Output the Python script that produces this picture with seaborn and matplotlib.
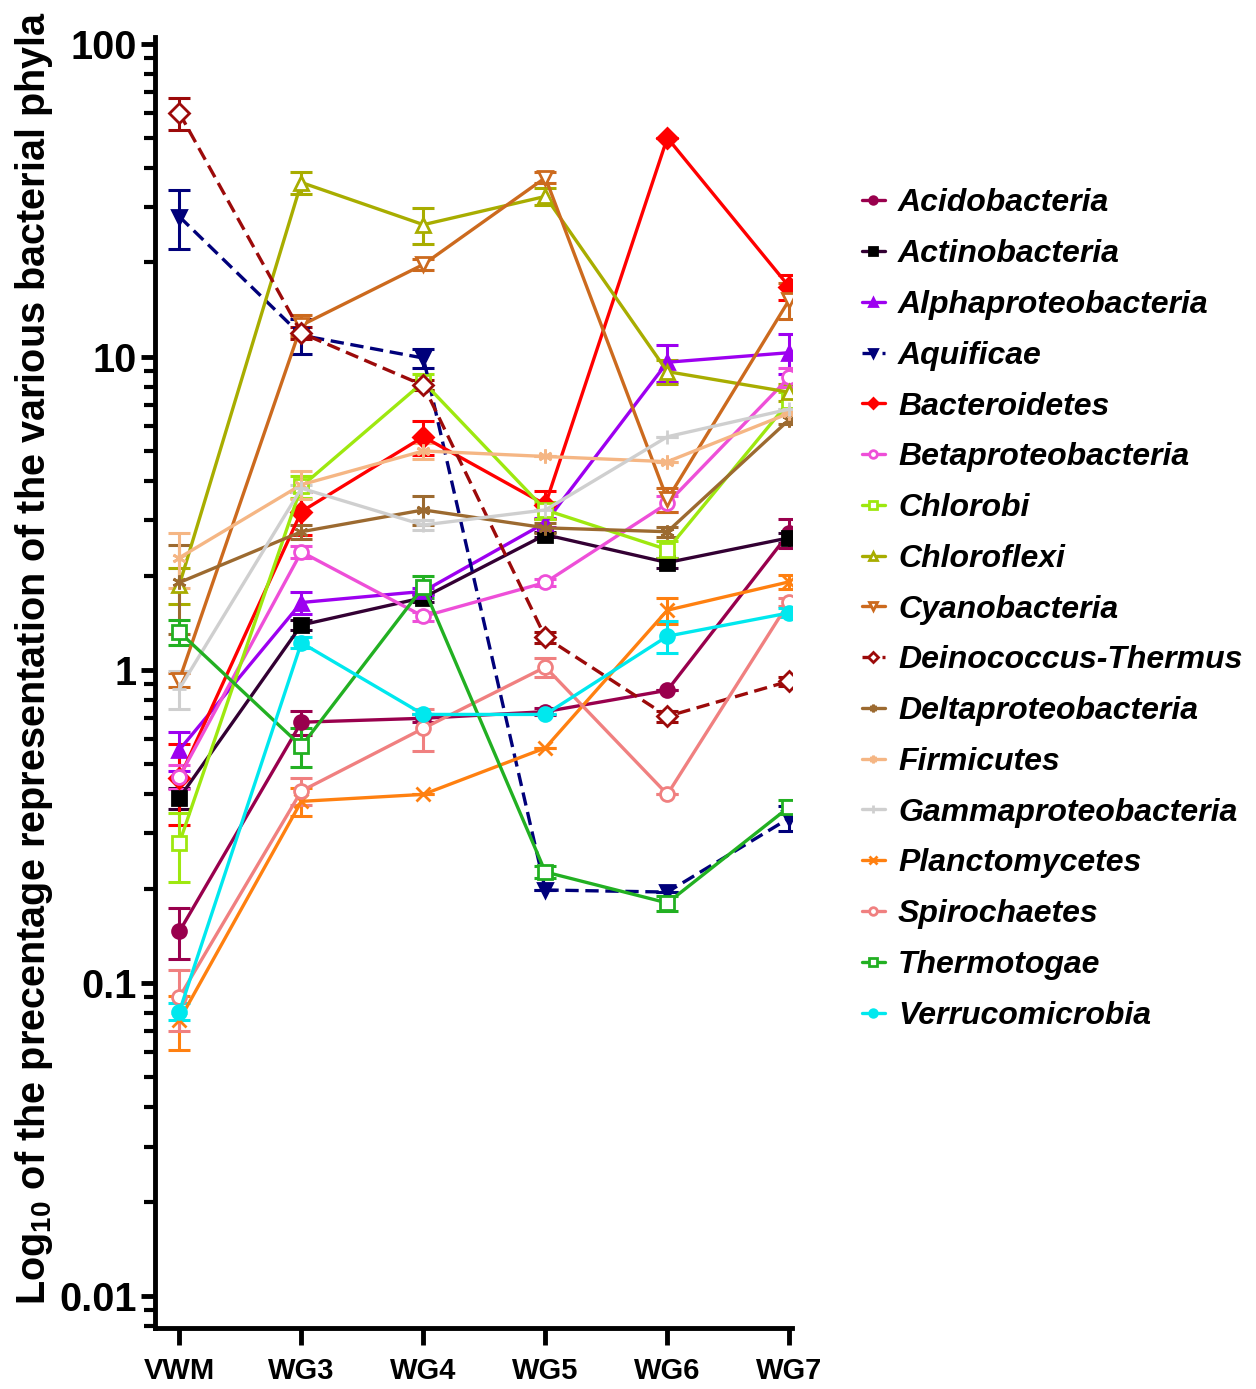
import numpy as np
import matplotlib
matplotlib.use("Agg")
from matplotlib import pyplot as plt
import seaborn as sns

sites = ["VWM", "WG3", "WG4", "WG5", "WG6", "WG7"]

phyla = ["Acidobacteria", "Actinobacteria", "Alphaproteobacteria", "Aquificae",
         "Bacteroidetes", "Betaproteobacteria", "Chlorobi", "Chloroflexi",
         "Cyanobacteria", "Deinococcus-Thermus", "Deltaproteobacteria",
         "Firmicutes", "Gammaproteobacteria", "Planctomycetes", "Spirochaetes",
         "Thermotogae", "Verrucomicrobia"]

# mean percentage per site
acido = [0.146, 0.68, 0.70, 0.735, 0.86, 2.74]
actino = [0.39, 1.39, 1.70, 2.70, 2.20, 2.64]
alpha = [0.555, 1.64, 1.78, 2.95, 9.6, 10.3]
aquif = [28.0, 11.7, 9.9, 0.198, 0.195, 0.336]
bactero = [0.45, 3.2, 5.55, 3.37, 50.0, 16.7]
beta = [0.455, 2.38, 1.48, 1.90, 3.40, 8.6]
chlorobi = [0.28, 3.85, 8.3, 3.24, 2.42, 7.2]
chloroflexi = [1.87, 36.0, 26.4, 32.5, 8.96, 7.7]
cyano = [0.93, 12.6, 19.7, 37.3, 3.5, 15.2]
deino = [60.0, 11.9, 8.1, 1.27, 0.71, 0.92]
delta = [1.9, 2.76, 3.24, 2.84, 2.76, 6.3]
firmi = [2.28, 3.9, 5.0, 4.8, 4.62, 6.6]
gamma = [0.87, 3.8, 2.9, 3.24, 5.55, 6.8]
plancto = [0.076, 0.38, 0.40, 0.563, 1.55, 1.91]
spiro = [0.090, 0.41, 0.65, 1.02, 0.40, 1.65]
thermo = [1.32, 0.57, 1.84, 0.226, 0.18, 0.365]
verruco = [0.081, 1.22, 0.72, 0.72, 1.28, 1.52]

# error bars (same units)
acido_err = [0.027, 0.06, 0.02, 0.02, 0.0, 0.3]
actino_err = [0.03, 0.05, 0.05, 0.05, 0.08, 0.1]
alpha_err = [0.08, 0.13, 0.05, 0.1, 1.3, 1.5]
aquif_err = [6.0, 1.5, 0.7, 0.0, 0.0, 0.03]
bactero_err = [0.13, 0.5, 0.7, 0.35, 0.0, 1.5]
beta_err = [0.04, 0.1, 0.05, 0.05, 0.2, 0.6]
chlorobi_err = [0.07, 0.3, 0.5, 0.2, 0.15, 0.5]
chloroflexi_err = [0.25, 3.0, 3.5, 2.0, 0.8, 0.5]
cyano_err = [0.05, 1.0, 0.8, 1.5, 0.3, 2.0]
deino_err = [7.0, 0.5, 0.3, 0.05, 0.03, 0.03]
delta_err = [0.6, 0.15, 0.35, 0.1, 0.1, 0.2]
firmi_err = [0.45, 0.4, 0.3, 0.0, 0.0, 0.0]
gamma_err = [0.12, 0.1, 0.1, 0.0, 0.0, 0.0]
plancto_err = [0.015, 0.04, 0.0, 0.0, 0.15, 0.1]
spiro_err = [0.02, 0.04, 0.1, 0.07, 0.0, 0.05]
thermo_err = [0.12, 0.08, 0.15, 0.01, 0.01, 0.02]
verruco_err = [0.005, 0.05, 0.0, 0.0, 0.15, 0.05]

values = [acido, actino, alpha, aquif, bactero, beta, chlorobi, chloroflexi, cyano,
          deino, delta, firmi, gamma, plancto, spiro, thermo, verruco]
errors = [acido_err, actino_err, alpha_err, aquif_err, bactero_err, beta_err,
          chlorobi_err, chloroflexi_err, cyano_err, deino_err, delta_err, firmi_err,
          gamma_err, plancto_err, spiro_err, thermo_err, verruco_err]

# colour, marker, filled, dashed
styles = {
    "Acidobacteria": ("#99004d", "o", True, False),
    "Actinobacteria": ("#330033", "s", True, False),
    "Alphaproteobacteria": ("#9d00f0", "^", True, False),
    "Aquificae": ("#00007a", "v", True, True),
    "Bacteroidetes": ("#ff0000", "D", True, False),
    "Betaproteobacteria": ("#ee4fd8", "o", False, False),
    "Chlorobi": ("#9ee80f", "s", False, False),
    "Chloroflexi": ("#a8ad00", "^", False, False),
    "Cyanobacteria": ("#cc6a1e", "v", False, False),
    "Deinococcus-Thermus": ("#9c0a0a", "D", False, True),
    "Deltaproteobacteria": ("#9c6a30", (6, 2, 0), True, False),
    "Firmicutes": ("#f5b684", (6, 2, 0), True, False),
    "Gammaproteobacteria": ("#cfcfcf", "+", True, False),
    "Planctomycetes": ("#ff8010", "x", True, False),
    "Spirochaetes": ("#f08080", "o", False, False),
    "Thermotogae": ("#22b022", "s", False, False),
    "Verrucomicrobia": ("#00e8ee", "o", True, False),
}

sns.set_style("white")
plt.rcParams["font.family"] = ["Liberation Sans", "DejaVu Sans"]
plt.rcParams["mathtext.fontset"] = "custom"
plt.rcParams["mathtext.rm"] = "Liberation Sans:bold"
plt.rcParams["mathtext.bf"] = "Liberation Sans:bold"
for k in ["text.color", "axes.labelcolor", "xtick.color", "ytick.color"]:
    plt.rcParams[k] = "black"

fig = plt.figure(figsize=(12.56, 13.89), dpi=100)
ax = fig.add_axes([0.1234, 0.0439, 0.507, 0.9295])

x = np.arange(len(sites))
for name, vals, err in zip(phyla, values, errors):
    col, mk, filled, dashed = styles[name]
    face = col if filled else "white"
    if name == "Actinobacteria":
        face = "black"
    ls = (0, (4, 2)) if dashed else "-"
    ax.errorbar(x, vals, yerr=err, fmt="none", ecolor=col, elinewidth=2.2,
                capsize=8, capthick=2.2, zorder=2)
    sns.lineplot(x=x, y=vals, ax=ax, color=col, marker=mk, markersize=10,
                 markerfacecolor=face, markeredgecolor="black" if name == "Actinobacteria" else col,
                 markeredgewidth=2, linewidth=2.4, linestyle=ls, label=name,
                 zorder=3)

ax.set_yscale("log")
ax.set_ylim(0.0079, 105)
ax.set_xlim(-0.2, 5.02)
ax.set_xticks(x)
ax.set_xticklabels(sites)
ax.set_yticks([0.01, 0.1, 1, 10, 100])
ax.set_yticklabels(["0.01", "0.1", "1", "10", "100"])

for s in ["top", "right"]:
    ax.spines[s].set_visible(False)
for s in ["left", "bottom"]:
    ax.spines[s].set_linewidth(3.5)
    ax.spines[s].set_color("black")

ax.tick_params(axis="y", which="major", direction="out", length=10, width=3.5,
               labelsize=28.5, pad=3, left=True)
ax.tick_params(axis="y", which="minor", direction="out", length=8, width=3, left=True)
ax.tick_params(axis="x", which="major", direction="out", length=12, width=3.5,
               labelsize=21, pad=9, bottom=True)
for lab in ax.get_xticklabels() + ax.get_yticklabels():
    lab.set_fontweight("bold")

ax.set_ylabel(r"Log$_{10}$ of the precentage representation of the various bacterial phyla",
              fontsize=28.5, fontweight="bold", ha="center", va="center")
ax.yaxis.set_label_coords(-0.19, 0.519)

handles, labels = ax.get_legend_handles_labels()
ax.get_legend().remove()
fig.legend(handles, labels, loc="upper left", bbox_to_anchor=(0.6633, 0.885),
           frameon=False, handlelength=0.72, handletextpad=0.41, markerscale=0.55,
           labelspacing=0.65,
           prop=dict(family="Liberation Sans", weight="bold", style="italic", size=23))

fig.savefig("out.png", dpi=100)
